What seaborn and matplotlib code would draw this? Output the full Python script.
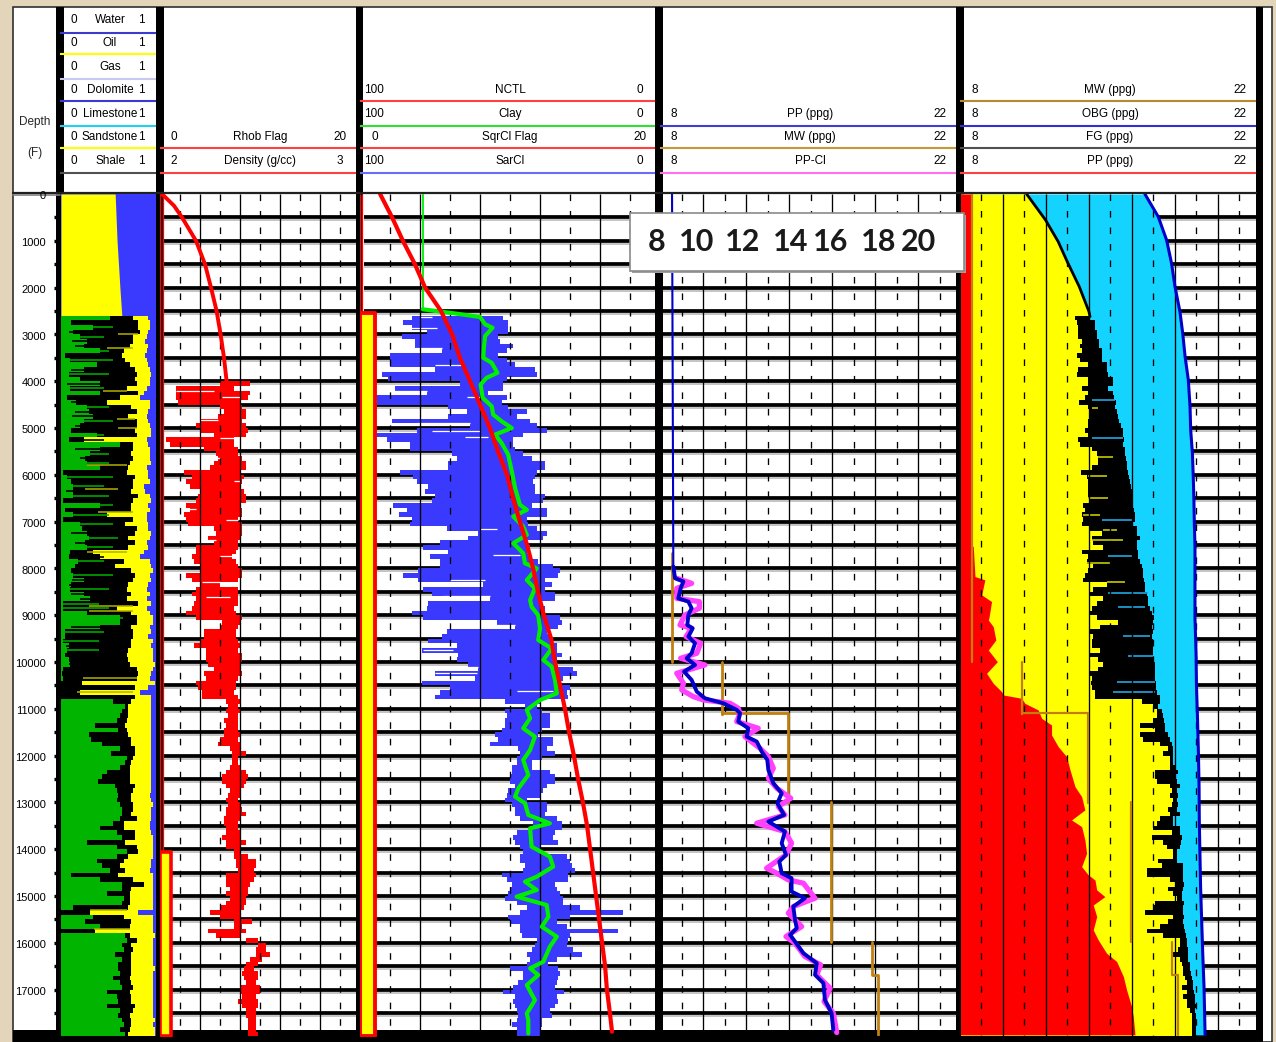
import numpy as np
import matplotlib
matplotlib.use("Agg")
import matplotlib.pyplot as plt
import matplotlib.patches as mp
import seaborn as sns

# ---------- data ----------
lith_top_depth = [0, 1000, 2000, 2600]
lith_top_yellow = [0.57, 0.59, 0.62, 0.64]

lith_green = [.52,.11,.34,.13,.20,.27,.24,.41,.04,.09,.38,.24,.08,.20,.41,.09,.41,.06,.16,.27,.29,.34,.24,.20,.11,.38,.08,.62,.41,.31,.25,.27,.41,.02,.06,.11,.13,.13,.13,.02,.41,.04,.13,.02,.20,.22,.27,.29,.25,.27,.09,.08,.18,.15,.11,.13,.24,.11,.09,.24,.31,.02,.02,.27,.62,.62,.41,.04,.04,.02,.08,.06,.04,
.08,.09,.02,.01,.02,0,0,0,0,.55,.67,.64,.62,.59,.36,.60,.29,.32,.43,.62,.53,.69,.67,.62,.48,.43,.39,.57,.59,.60,.59,.62,.64,.64,.62,.55,.41,.59,.64,.27,.59,.69,.59,.38,.43,.52,.11,.41,.64,.64,.48,.66,.64,.13,0,.34,.25,.41,0,.67,.69,.64,.66,.57,.64,.60,.60,.62,.55,.62,.64,.48,.59,.60,.48,.62,.60,.64,.66,.62,.67]
lith_black = [.76,.81,.81,.83,.76,.76,.73,.66,.64,.67,.73,.78,.80,.78,.80,.69,.81,.62,.48,.74,.80,.71,.80,.80,.78,.80,.24,.76,.76,.74,.76,.73,.71,.69,.78,.76,.76,.74,.81,.76,.74,.74,.48,.76,.67,.80,.78,.71,.78,.71,.34,.41,.66,.57,.74,.78,.76,.71,.69,.74,.69,.81,.59,.74,.80,.80,.74,.76,.76,.74,.74,.71,.69,
.71,.73,.80,.81,.80,.22,.78,.20,.78,.74,.71,.71,.71,.69,.67,.69,.71,.74,.74,.78,.78,.76,.74,.73,.73,.73,.73,.78,.76,.74,.74,.76,.76,.74,.80,.66,.66,.78,.78,.67,.80,.81,.71,.66,.62,.67,.60,.76,.87,.74,.73,.73,.73,.71,.30,.66,.74,.73,.36,.73,.80,.74,.76,.74,.74,.74,.74,.74,.73,.74,.76,.73,.74,.74,.78,.76,.73,.74,.74,.73,.71]
lith_yellow = [.92,.94,.94,.92,.90,.88,.92,.90,.88,.90,.92,.94,.95,.94,.94,.90,.87,.83,.94,.94,.92,.90,.92,.94,.95,.95,.90,.92,.94,.94,.94,.95,.90,.92,.92,.94,.87,.88,.94,.95,.92,.94,.90,.90,.92,.92,.95,.94,.90,.92,.87,.83,.94,.95,.97,.94,.95,.92,.90,.94,.90,.95,.90,.94,.97,.97,.94,.95,.92,.97,.95,.97,.97,
.97,.99,.97,.95,.94,.99,.92,.83,.95,.95,.95,.95,.95,.95,.95,.95,.95,.95,.95,.95,.95,.95,.95,.95,.95,.95,.95,.95,.95,.94,.95,.97,.95,.95,.95,.94,.94,.95,.97,.97,.97,.97,.97,.95,.95,.94,.97,.97,.97,.97,.97,.97,.97,.97,.81,.97,.97,.97,.97,.99,.97,.97,.97,.97,.97,.97,.99,.97,.97,.97,.97,.97,.97,.97,.97,.97,.97,.99,.97,.99,.99]
lith_stripe_depth = [3000,3300,4200,4800,5000,5800,6300,6800,7650,8800,8900,10350,10650,15300,15700]
lith_stripe_left = [.60,.48,.44,.59,.60,.27,.25,.39,.27,.29,.29,.23,.17,.31,.35]
lith_stripe_right = [.81,.76,.69,.78,.80,.69,.60,.76,.69,.76,.76,.80,.76,.69,.73]
lith_black_spike_depth = [2750,2950,3150,3250,3450,3750,4050,4450,4650,4750,4950,5250,5450,5650,5950,6150,6350,6550,6750,6950,7250,7450,7750,8050,8250,8350,8550,8650,9250,9450,9650,9850,10050]
lith_black_spike_left = [.10,.08,.12,.15,.05,.10,.06,.10,.15,.12,.15,.10,.15,.20,.08,.10,.05,.12,.04,.10,.10,.15,.12,.10,.12,.08,.10,.20,.10,.05,.05,.05,.08]
lith_green_spike_depth = [2850,3050,3350,3550,3850,4150,4550,4850,5150,5350,5550,5750,6050,6250,6450,6650,6850,7050,7350,7550,7850,8150,8450,8750,8850,9050,9350,9550,9750]
lith_green_spike_right = [.55,.45,.50,.55,.50,.45,.50,.55,.45,.60,.50,.50,.55,.45,.50,.55,.50,.55,.60,.55,.45,.55,.50,.40,.50,.65,.45,.40,.40]

rhob_trend_depth = [0,250,500,1000,1500,2000,2500,3000,3500,4000]
rhob_trend = [2.01,2.07,2.11,2.18,2.225,2.255,2.283,2.303,2.32,2.333]
rhob_left = [2.30,2.08,2.08,2.08,2.09,2.30,2.32,2.29,2.20,2.18,2.20,2.27,2.03,2.05,2.22,2.28,2.29,2.27,2.25,2.12,2.16,2.13,2.15,2.20,2.19,2.18,2.13,2.15,2.12,2.13,2.14,2.27,2.28,2.24,2.27,2.18,2.18,2.16,2.17,2.20,2.20,2.13,2.16,2.20,2.18,2.16,2.18,2.17,2.16,2.13,2.18,2.31,2.30,2.22,2.22,2.20,2.17,2.23,2.23,
2.23,2.24,2.27,2.22,2.23,2.18,2.19,2.21,2.21,2.33,2.34,2.33,2.34,2.32,2.33,2.32,2.32,2.30,2.29,2.35,2.36,2.36,2.36,2.35,2.33,2.31,2.31,2.33,2.35,2.34,2.33,2.34,2.33,2.33,2.32,2.32,2.33,2.33,2.31,2.33,2.33,2.37,2.37,2.38,2.38,2.39,2.33,2.33,2.33,2.35,2.33,2.35,2.33,2.30,2.25,2.30,2.37,2.37,2.24,2.28,2.43,2.49,2.48,2.48,2.45,2.43,2.42,2.41,2.42,2.43,2.40,2.40,2.41,2.39,2.41,2.43,2.43,2.44,2.44,2.44,2.44]
rhob_right = [2.45,2.37,2.45,2.44,2.40,2.41,2.43,2.43,2.41,2.43,2.44,2.43,2.37,2.37,2.39,2.39,2.41,2.43,2.43,2.40,2.42,2.41,2.40,2.42,2.43,2.43,2.40,2.41,2.41,2.39,2.41,2.41,2.41,2.40,2.39,2.39,2.38,2.36,2.38,2.39,2.41,2.41,2.39,2.30,2.39,2.39,2.39,2.39,2.37,2.38,2.41,2.40,2.39,2.38,2.38,2.39,2.40,2.39,2.41,
2.41,2.40,2.40,2.41,2.39,2.38,2.38,2.37,2.39,2.40,2.39,2.40,2.39,2.39,2.39,2.39,2.40,2.39,2.40,2.40,2.43,2.39,2.39,2.40,2.43,2.44,2.43,2.42,2.40,2.40,2.39,2.40,2.41,2.43,2.40,2.39,2.39,2.40,2.40,2.43,2.40,2.40,2.44,2.48,2.48,2.47,2.48,2.47,2.45,2.44,2.44,2.43,2.43,2.42,2.40,2.40,2.46,2.41,2.43,2.40,2.49,2.53,2.53,2.55,2.51,2.49,2.47,2.49,2.49,2.48,2.50,2.50,2.48,2.49,2.49,2.48,2.48,2.48,2.48,2.48,2.49]
rhob_gap_depth = [4210,4340,4820,5210,5640,6140,6740,6960,7400,7740,8290,8610]
rhob_gap_left = [2.08,2.31,2.20,2.30,2.25,2.37,2.13,2.33,2.24,2.30,2.21,2.23]
rhob_gap_right = [2.27,2.40,2.29,2.37,2.30,2.40,2.18,2.39,2.28,2.38,2.30,2.35]
rhob_flag_zero = 0.25
rhob_flag_start = 14050
rhob_flag_on = 1.1

nctl_depth = [0,500,1000,1500,2000,2500,3000,3500,4000,4500,5000,5500,6000,6500,7000,7500,8000,8500,9000,9500,10000,10500,11000,11500,12000,12500,13000,13500,14000,14500,15000,15500,16000,16500,17000,17500,17900]
nctl = [93.3,89.3,85.7,81.7,78.3,73,69.3,66.7,63.3,60,56.7,54,51,49,46.7,44.3,42.3,40.7,38.7,36.3,35,33.3,31.7,30.3,28.7,27.3,25.7,24.3,23.3,22.3,21.3,20.3,19.3,18.3,17.7,16.7,16]
sar_left = [82.8,85.6,82.8,77.8,86.1,81.7,81.7,72.8,90,90,90,75,92.8,90.6,66.7,88.3,77.8,95,94.4,70.6,64.4,70.6,89.4,63.3,81.1,95.6,91.1,83.3,83.3,69.4,67.8,70.6,70.6,86.7,82.2,81.1,77.2,78.3,75,76.1,88.9,84.4,86.9,82.8,83.3,71.1,60.6,63.9,73.3,78.9,70.6,76.7,73.3,73.3,80.6,85.6,80.6,58.9,78.9,76.1,56.7,77.2,77.8,82.8,78.9,54.4,48.3,71.1,72.8,77.2,67.8,79.4,67.2,
67.8,63.9,60.6,75,61.7,79.4,70,73.3,75,51.7,45,51.7,51.1,51.7,51.7,52.8,55,53.9,56.7,47.2,46.7,47.8,47.8,49.4,49.4,50,50,48.3,50.6,51.1,51.7,49.4,48.3,48.3,46.7,42.2,42.8,47.8,48.9,48.3,46.7,45.6,46.7,46.7,45,45.6,52.8,51.1,49.4,50,50.6,51.7,47.8,44.4,46.7,50.6,50,46.7,46.7,46.1,41.1,41.7,42.8,44.4,43.3,44.4,50,45.6,45.6,47.2,48.9,52.2,48.3,48.9,48.3,47.8,47.2,47.8,49.4,47.8,47.8]
sar_right = [52.2,50.6,50.6,50.6,53.9,53.3,48.9,51.1,53.9,51.1,48.3,41.7,41.1,51.1,52.2,52.2,57.2,51.1,52.8,50.6,44.4,47.8,43.3,41.1,37.8,45.6,48.9,48.9,48.3,45.6,42.8,38.3,38.3,41.1,41.7,42.2,41.7,41.7,38.3,38.9,42.8,37.8,37.8,44.4,43.9,41.1,37.8,38.9,44.4,43.3,44.4,43.3,40.6,35.6,33.3,33.9,38.3,36.1,38.3,35,35,40,38.3,38.3,33.3,32.8,33.9,37.8,36.1,35.6,34.4,34.4,32.8,
34.4,34.4,28.9,27.8,32.2,33.3,30,31.1,30.6,40,41.1,39.4,36.7,36.7,36.7,39.4,40.6,35.6,35.6,37.8,35,39.4,42.8,42.8,36.7,35,35,37.8,38.9,40,44.4,37.8,37.8,38.3,34.4,32.8,32.8,35,35.6,33.9,40,40,31.1,30,29.4,28.3,30.6,30.6,35,34.4,33.3,32.2,32.2,26.7,12.2,30,34.4,31.1,13.9,30,30.6,31.1,28.9,26.1,34.4,37.2,33.9,33.3,33.9,34.4,35,32,34.4,33.9,35,36.7,36.1,39.4,39.4,40,40]
sar_gap_depth = [2630,2870,3290,3660,4210,4340,4890,5070,5200,7155,7710,8250,8600,9210,9750,10100,10240,10620]
sar_gap_left = [80,83.3,81.7,75,88.9,64.4,81.1,76.1,65,60,55.6,70,72.2,60,78.9,75,75,47.8]
sar_gap_right = [76.1,74.4,72.8,65.6,77.8,58.9,63.3,60,57.2,54.4,46.7,58.3,56.7,48.3,68.9,60.6,61.1,35.6]
sqrcl_top_depth = [0,2464]
sqrcl_top = [79.1,79.1]
sqrcl_depth = [2464,2557,2628,2785,2857,3035,3285,3500,3607,3821,3928,4071,4356,4535,4713,4856,5000,5142,5320,5570,5927,6284,6641,6748,6891,7105,7284,7462,7677,7891,8000,8248,8428,8678,8820,9000,9284,9530,9711,
9957,10100,10385,10670,10812,11025,11204,11417,11595,11880,12094,12415,12699,12877,13019,13269,13447,13554,13946,14160,14373,14587,14694,14872,15014,15192,15442,15656,15869,16083,16404,16546,16689,16902,17225,17510,17650,17937]
sqrcl = [79.1,67.8,60,58.3,55.8,58.3,58.7,58.9,56.1,54.2,57.8,59.8,59.1,56.1,55.6,52.8,49.4,55,52.8,50.6,49.4,48.3,46.7,44.4,48.9,45.6,44.4,48.9,45.6,45,41.1,44.4,41.7,43.3,42.8,40.6,40,40.6,36.1,
38.9,36.1,35,34.4,40,44.4,43.3,45.6,41.7,43.3,45.6,43.9,47.2,48.3,45,43.9,36.7,43.3,42.8,36.7,35.6,41.1,45,41.1,47.8,37.8,37.2,39.4,34.4,36.7,38.9,43.3,40.6,44.4,41.7,44.4,43.9,43.9]
sqrcl_flag_zero = 0.15
sqrcl_flag_start = 2550
sqrcl_flag_on = 1.0

pp_top_depth = [0,8000]
pp_top = [8.56,8.62]
pp_depth = [7960,8210,8280,8425,8640,8710,8850,8995,9210,9280,9458,9600,9814,9920,10063,10205,10383,10632,10775,10882,11024,11095,11273,11416,11594,11700,11914,12092,12306,12590,12804,13018,13267,13410,13623,13872,14121,14264,14513,14620,14905,15047,15225,15510,15688,15830,15973,16222,16435,16684,16862,17218,17504,17860]
pp = [8.62,8.70,9.09,8.96,8.85,9.32,9.47,9.32,9.27,9.52,9.32,9.63,9.47,9.24,9.63,9.12,9.47,9.71,10.09,10.95,11.57,11.72,11.64,12.11,12.03,12.50,12.73,12.99,13.04,13.27,13.66,13.46,13.77,13.04,13.81,13.66,13.86,13.55,13.66,14.12,14.12,14.74,14.20,14.28,14.36,14.05,14.28,14.67,15.29,15.21,15.60,15.67,15.98,16.06]
ppcl_depth = [8212,8319,8425,8639,8710,8853,8995,9209,9280,9458,9600,9814,9921,10063,10241,10455,10597,10739,10811,10882,10989,11095,11273,11416,11594,11843,12021,12270,12484,12697,12911,13089,13267,13445,13623,13872,14121,14406,14513,14655,14727,15047,15225,15367,15652,15866,16008,16293,16471,16684,16969,17254,17504,17917]
ppcl = [8.78,9.47,8.78,8.78,9.83,9.83,9.16,8.93,9.47,9.21,9.89,9.71,8.96,10.09,8.78,9.09,9.01,9.55,10.02,11.26,11.64,11.72,11.57,12.57,11.95,12.65,13.04,13.27,13.04,13.43,14.08,13.50,13.81,12.50,13.81,14.12,13.86,12.96,13.43,13.97,14.67,15.21,14.20,13.97,14.59,13.86,14.28,14.74,15.47,15.29,15.91,15.63,16.06,16.22]
mw_segments = [([7680,9990],[8.57,8.57]),
               ([9990,11110,11095,11095,13018],[10.9,10.9,10.9,13.97,13.97]),
               ([12982,15973],[15.97,15.97]),
               ([15973,16684,16684,17965],[17.88,17.88,18.16,18.16])]
mw_full_top = [0,9990]

pp_fill_depth = [0,7500,7533,8174,8245,8565,8708,9028,9103,9245,9530,9744,9993,10242,10456,10634,10705,10776,10883,11025,11203,11346,11559,11808,12022,12307,12663,12877,13161,13375,13517,13802,14087,14372,14550,14657,14870,15013,15191,15440,15725,15938,16223,16401,16721,17006,17362,17576,17967]
pp_fill = [8.51,8.51,8.62,8.70,9.16,9.01,9.47,9.36,9.32,9.55,9.67,9.32,9.74,9.24,9.55,9.94,10.02,10.87,11.02,11.64,11.80,12.26,12.26,12.57,12.96,13.12,13.35,13.66,13.81,13.19,13.66,13.81,13.89,13.66,13.97,14.28,14.36,14.74,14.20,14.36,14.20,14.43,14.82,15.29,15.60,15.75,15.98,16.06,16.14]
fg_top_depth = [0,555,1018,1445,1980,2513,2620]
fg_top = [11.1,11.98,12.57,12.99,13.55,14.0,14.05]
obg_depth = [0,484,983,1481,1979,2513,2976,3475,3973,4542,5041,5540,6038,6537,7035,7533,8031,8530,9060,9815,10527,11239,11951,12663,13375,14087,14799,15511,16223,16935,17967]
obg = [16.6,17.22,17.61,17.84,18.0,18.23,18.36,18.47,18.62,18.7,18.73,18.81,18.85,18.88,18.9,18.93,18.93,18.93,18.93,18.98,19.0,19.05,19.09,19.12,19.13,19.16,19.19,19.24,19.29,19.35,19.4]
fg_left = [13.35,13.43,13.50,13.50,13.50,13.66,13.58,13.66,13.43,13.58,13.97,13.50,13.43,13.97,13.97,13.66,13.97,13.81,13.55,13.97,14.05,14.05,13.97,13.97,13.81,13.97,13.50,13.58,14.12,14.36,14.43,14.43,14.12,13.61,13.89,13.97,13.97,13.97,13.97,14.05,13.74,13.81,13.66,13.74,13.66,14.05,14.59,14.12,14.20,14.67,13.66,13.97,13.89,14.20,13.97,13.81,13.74,14.82,14.20,14.05,14.67,14.36,14.12,14.05,14.36,
15.36,14.51,14.05,14.20,14.12,14.12,14.51,14.05,14.43,14.67,14.43,14.02,14.12,14.08,14.12,14.28,14.28,16.45,16.99,17.15,17.15,16.99,16.37,17.07,16.37,16.53,17.30,17.69,17.46,17.77,17.77,17.77,17.07,17.07,17.15,17.77,17.84,17.77,17.92,17.84,17.69,17.77,17.30,17.15,16.99,17.84,16.91,17.46,17.61,17.92,17.92,17.22,17.38,16.68,16.68,17.77,18.0,17.69,17.92,18.08,17.07,16.99,16.60,17.92,17.69,17.30,16.68,17.46,18.23,18.23,18.16,17.92,18.23,18.31,18.36,18.39,18.47,18.54,18.31,18.54,18.39,18.54,18.54,18.70,18.78,18.78,18.70,18.70,18.78]
fg_right = [14.05,14.28,14.28,14.36,14.39,14.48,14.48,14.59,14.59,14.59,14.82,14.82,14.90,15.13,15.13,14.90,15.13,15.16,15.26,15.21,15.29,15.36,15.41,15.49,15.57,15.57,15.64,15.60,15.67,15.67,15.72,15.75,15.78,15.83,15.86,15.91,15.94,15.98,16.03,16.03,16.06,16.09,16.14,16.14,16.06,16.22,16.25,16.37,16.22,16.22,16.29,16.29,16.37,16.45,16.50,16.53,16.57,16.60,16.60,16.68,16.76,16.76,16.84,16.91,17.02,
16.96,16.91,16.96,16.91,16.99,16.99,16.96,16.96,16.96,17.07,17.07,17.07,17.07,17.12,17.12,17.15,17.30,17.30,17.22,17.38,17.46,17.49,17.53,17.53,17.69,17.77,17.84,17.89,17.92,17.92,17.92,18.0,18.16,18.0,18.08,18.23,18.08,18.16,18.08,18.16,18.08,18.23,17.92,17.92,18.23,18.23,18.31,18.26,18.23,18.08,18.08,18.08,18.36,18.39,18.39,18.39,18.42,18.36,18.31,18.31,18.42,18.39,18.36,18.42,18.39,18.42,18.47,18.51,18.54,18.54,18.62,18.62,18.62,18.70,18.70,18.73,18.78,18.82,18.85,18.88,18.93,18.93,18.98,18.93,18.98,18.98]
cyan_stripe_depth = [4400,5219,6963,7725,8515,8815,9445,9872,10420,10634]
cyan_stripe_left = [14.12,14.12,14.59,14.90,14.90,15.36,15.60,15.83,15.29,15.13]
cyan_stripe_right = [15.21,15.60,16.06,16.06,16.76,16.60,16.84,16.99,17.07,17.07]
yellow_stripe_depth = [4578,5610,6030,6500,6850,7170,7390,7890,8280]
yellow_stripe_left = [14.12,14.43,13.97,13.97,13.74,14.67,14.12,13.89,14.82]
yellow_stripe_right = [14.43,15.13,14.82,14.90,14.51,15.29,15.60,14.98,15.67]

depth_labels = list(range(0, 18000, 1000))
bar_depths = list(range(500, 18000, 500))

water_rows = ["Water", "Oil", "Gas", "Dolomite", "Limestone", "Sandstone", "Shale"]
callout_labels = ["8", "10", "12", "14", "16", "18", "20"]

C_GREEN, C_YEL, C_BLUE, C_RED, C_CYAN = "#00B400", "#FFFF00", "#3A3AFF", "#FF0000", "#14D4FF"
C_LIME, C_MAG, C_NAVY, C_BROWN = "#00EE00", "#FF40FF", "#0000C8", "#C08010"

sns.set_theme(style="white")
plt.rcParams["font.family"] = ["Liberation Sans", "DejaVu Sans"]

W, H = 1276, 1042
fig = plt.figure(figsize=(W / 100, H / 100), dpi=100, facecolor="#E3D5BA")
TOP, BOT = 194, 1036
BAND = 1030
ZMAX = (BOT - TOP) / 0.0468

def make_axes(x0, x1, xlim):
    ax = fig.add_axes([x0 / W, 1 - BOT / H, (x1 - x0) / W, (BOT - TOP) / H], zorder=2)
    ax.patch.set_visible(False)
    ax.set_xlim(*xlim)
    ax.set_ylim(ZMAX, 0)
    ax.set_axis_off()
    return ax

# background panel, header
bg = fig.add_axes([0, 0, 1, 1], zorder=0)
bg.set_xlim(0, W); bg.set_ylim(H, 0); bg.set_axis_off()
bg.add_patch(mp.Rectangle((13, 7), 1259, 1035, fc="white", ec="#303030", lw=1.2))
for a, b in [(56, 61), (156, 164), (356, 363), (655, 663), (956, 964), (1256, 1263)]:
    bg.add_patch(mp.Rectangle((a, 7), b - a, BAND - 7, fc="black", ec="none"))
bg.add_patch(mp.Rectangle((57, 7), 7, TOP - 7, fc="black", ec="none"))
bg.add_patch(mp.Rectangle((13, BAND), 1250, H - BAND, fc="black", ec="none"))
bg.plot([13, 1256], [193, 193], color="#202020", lw=1.6)
bg.plot([13, 60], [194.5, 194.5], color="#808080", lw=1.2)

def hdr_line(x0, x1, y, color):
    bg.plot([x0, x1], [y, y], color=color, lw=1.5, solid_capstyle="butt")

def hdr_row(xl, xc, xr, y, left, name, right):
    for x, s in ((xl, left), (xc, name), (xr, right)):
        bg.text(x, y, s, ha="center", va="center", fontsize=8.5, color="black")

ys = [20, 43, 67, 90, 114, 137, 161]
for y, n in zip(ys, water_rows):
    hdr_row(74, 110, 141, y, "0", n, "1")
for y, c in zip([32.7, 54, 79, 101, 126, 148, 173],
                ["#3A3AD0", "#FFFF00", "#C8C8F0", "#3A3AD0", "#20D0F0", "#FFFF00", "#505050"]):
    hdr_line(60, 156, y, c)
hdr_row(174, 260, 340, 137, "0", "Rhob Flag", "20")
hdr_row(174, 260, 340, 161, "2", "Density (g/cc)", "3")
hdr_line(160, 356, 148, "#FF4040"); hdr_line(160, 356, 173, "#FF4040")
hdr_row(374, 510, 640, 90, "100", "NCTL", "0")
hdr_row(374, 510, 640, 114, "100", "Clay", "0")
hdr_row(375, 510, 640, 137, "0", "SqrCl Flag", "20")
hdr_row(374, 510, 640, 161, "100", "SarCl", "0")
for y, c in zip([101, 126, 148, 173], ["#FF4040", "#30E030", "#FF4040", "#6A6AFF"]):
    hdr_line(360, 655, y, c)
hdr_row(674, 810, 940, 114, "8", "PP (ppg)", "22")
hdr_row(674, 810, 940, 137, "8", "MW (ppg)", "22")
hdr_row(674, 810, 940, 161, "8", "PP-Cl", "22")
for y, c in zip([126, 148, 173], ["#4040D0", "#C89838", "#FF70F0"]):
    hdr_line(660, 956, y, c)
hdr_row(975, 1110, 1240, 90, "8", "MW (ppg)", "22")
hdr_row(975, 1110, 1240, 114, "8", "OBG (ppg)", "22")
hdr_row(975, 1110, 1240, 137, "8", "FG (ppg)", "22")
hdr_row(975, 1110, 1240, 161, "8", "PP (ppg)", "22")
for y, c in zip([101, 126, 148, 173], ["#B88A30", "#3030D0", "#505050", "#FF4040"]):
    hdr_line(960, 1256, y, c)
bg.text(35, 122, "Depth", ha="center", va="center", fontsize=8.5)
bg.text(35, 153, "(F)", ha="center", va="center", fontsize=8.5)

# depth axis
depth_ax = make_axes(13, 61, (13, 61))
depth_ax.hlines(bar_depths, 54, 61, color="black", lw=2.4)
for d in depth_labels:
    depth_ax.text(46, d + 45, str(d), ha="right", va="center", fontsize=8, color="black")

def grid_and_bars(ax, solid, dashed, left_frac):
    x0, x1 = ax.get_xlim()
    xa = x0 + (x1 - x0) * left_frac
    ax.hlines(bar_depths, xa, x1, color="black", lw=2.7, zorder=1)
    ax.hlines([d + 62 for d in bar_depths], xa, x1, color="#B4B4B4", lw=1.1, zorder=1)
    ax.vlines(solid, 0, ZMAX, color="black", lw=0.95, zorder=6)
    ax.vlines(dashed, 0, ZMAX, color="black", lw=0.95, linestyles=(0, (5, 7.5)), zorder=6)

def curve(ax, x, y, color, lw, z=7):
    sns.lineplot(x=x, y=y, orient="y", sort=False, estimator=None, ax=ax,
                 color=color, linewidth=lw, zorder=z)

def grid_depths(values, start):
    return np.append(np.arange(start, start + 100 * len(values), 100), ZMAX)

def hold_last(values):
    return list(values) + [values[-1]]

# Track 0: lithology
ax0 = make_axes(61, 156, (0, 1))
ax0.fill_betweenx([0, ZMAX], 0, 1, color=C_BLUE, lw=0, zorder=1)
ax0.fill_betweenx(lith_top_depth, 0, lith_top_yellow, color=C_YEL, lw=0, zorder=2)
n = min(len(lith_green), len(lith_black), len(lith_yellow))
d0 = grid_depths(lith_green[:n], 2600)
ax0.fill_betweenx(d0, 0, hold_last(lith_yellow[:n]), step="post", color=C_YEL, lw=0, zorder=2)
ax0.fill_betweenx(d0, 0, hold_last(lith_black[:n]), step="post", color="black", lw=0, zorder=3)
ax0.fill_betweenx(d0, 0, hold_last(lith_green[:n]), step="post", color=C_GREEN, lw=0, zorder=4)
ax0.hlines(lith_green_spike_depth, 0, lith_green_spike_right, color=C_GREEN, lw=1.1, zorder=5)
ax0.hlines(lith_black_spike_depth, lith_black_spike_left, 0.45, color="black", lw=1.2, zorder=5)
ax0.hlines(lith_stripe_depth, lith_stripe_left, lith_stripe_right, color="#B0B000", lw=1.1, zorder=5)

# Track 1: density
ax1 = make_axes(160, 356, (2, 2 + 196 / 200))
grid_and_bars(ax1, [2.2, 2.4, 2.6, 2.8], [2.1, 2.3, 2.5, 2.7, 2.9], 0.02)
m = min(len(rhob_left), len(rhob_right))
d1 = grid_depths(rhob_left[:m], 4000)
ax1.fill_betweenx(d1, hold_last(rhob_left[:m]), hold_last(rhob_right[:m]), step="post", color=C_RED, lw=0, zorder=3)
ax1.hlines(rhob_gap_depth, rhob_gap_left, rhob_gap_right, color="white", lw=0.9, zorder=4)
curve(ax1, rhob_trend, rhob_trend_depth, C_RED, 2.8)
ax1.vlines([2.0, 2 + rhob_flag_zero / 20], 0, rhob_flag_start, color=C_RED, lw=0.9, zorder=8)
ax1.fill_betweenx([rhob_flag_start, ZMAX], 2, 2 + rhob_flag_on / 20, fc=C_YEL, ec=C_RED, lw=2.6, zorder=8)

# Track 2: clay
ax2 = make_axes(360, 655, (100, 100 - 295 / 3))
grid_and_bars(ax2, [80, 60, 40, 20], [90, 70, 50, 30, 10], 0.012)
m = min(len(sar_left), len(sar_right))
d2 = grid_depths(sar_left[:m], 2600)
ax2.fill_betweenx(d2, hold_last(sar_left[:m]), hold_last(sar_right[:m]), step="post", color=C_BLUE, lw=0, zorder=3)
ax2.hlines(sar_gap_depth, sar_gap_left, sar_gap_right, color="white", lw=0.9, zorder=4)
curve(ax2, sqrcl_top, sqrcl_top_depth, C_LIME, 1.3, z=7)
curve(ax2, sqrcl, sqrcl_depth, C_LIME, 3.0, z=7)
curve(ax2, nctl, nctl_depth, C_RED, 3.0, z=8)
ax2.vlines([100, 100 - 5 * sqrcl_flag_zero], 0, sqrcl_flag_start, color=C_RED, lw=0.9, zorder=9)
ax2.fill_betweenx([sqrcl_flag_start, ZMAX], 100, 100 - 5 * sqrcl_flag_on, fc=C_YEL, ec=C_RED, lw=2.8, zorder=9)

# Track 3: pressure
evens = [10, 12, 14, 16, 18, 20]
odds = [9, 11, 13, 15, 17, 19, 21]
ax3 = make_axes(660, 956, (8, 8 + 296 / 21.5))
grid_and_bars(ax3, evens, odds, 0.01)
curve(ax3, ppcl, ppcl_depth, C_MAG, 3.8, z=7)
curve(ax3, pp_top, pp_top_depth, C_NAVY, 1.5, z=8)
curve(ax3, pp, pp_depth, C_NAVY, 2.8, z=8)
for dd, vv in mw_segments:
    curve(ax3, vv, dd, C_BROWN, 2.0, z=6)

# Track 4: gradients
ax4 = make_axes(961, 1256, (8.05, 8 + 296 / 21.5))
grid_and_bars(ax4, evens, odds, 0.0)
ax4.fill_betweenx(obg_depth, 8, obg, color=C_CYAN, lw=0, zorder=2)
ax4.fill_betweenx(fg_top_depth, 8, fg_top, color=C_YEL, lw=0, zorder=3)
m = min(len(fg_left), len(fg_right))
d4 = grid_depths(fg_left[:m], 2600)
fl = hold_last(fg_left[:m])
fr = hold_last(fg_right[:m])
ax4.fill_betweenx(d4, 8, fl, step="post", color=C_YEL, lw=0, zorder=3)
ax4.fill_betweenx(d4, fl, fr, step="post", color="black", lw=0, zorder=4)
ax4.hlines(cyan_stripe_depth, cyan_stripe_left, cyan_stripe_right, color="#20A8E0", lw=1.2, zorder=5)
ax4.hlines(yellow_stripe_depth, yellow_stripe_left, yellow_stripe_right, color="#C8C800", lw=1.2, zorder=5)
ax4.fill_betweenx(pp_fill_depth, 8, pp_fill, color=C_RED, lw=0, zorder=5)
curve(ax4, fg_top, fg_top_depth, "black", 2.0, z=7)
curve(ax4, obg, obg_depth, C_NAVY, 2.2, z=7)
curve(ax4, [8.57, 8.57], mw_full_top, C_BROWN, 1.6, z=6)
for dd, vv in mw_segments[1:]:
    curve(ax4, vv, dd, C_BROWN, 1.6, z=6)

# Callout box
top = fig.add_axes([0, 0, 1, 1], zorder=5)
top.patch.set_visible(False)
top.set_xlim(0, W); top.set_ylim(H, 0); top.set_axis_off()
top.add_patch(mp.Rectangle((632, 215), 334, 58, fc="#A0A0A0", ec="none", zorder=1))
top.add_patch(mp.Rectangle((630, 213), 334, 58, fc="white", ec="#8A8A8A", lw=1.2, zorder=2))
for s, x in zip(callout_labels, [657, 696.5, 743, 790.5, 831, 878.5, 918]):
    top.text(x, 242, s, ha="center", va="center", fontsize=22, fontweight="bold",
             family="Lato", color="#1A1A1A", zorder=3)

fig.savefig("out.png", dpi=100, facecolor=fig.get_facecolor())
